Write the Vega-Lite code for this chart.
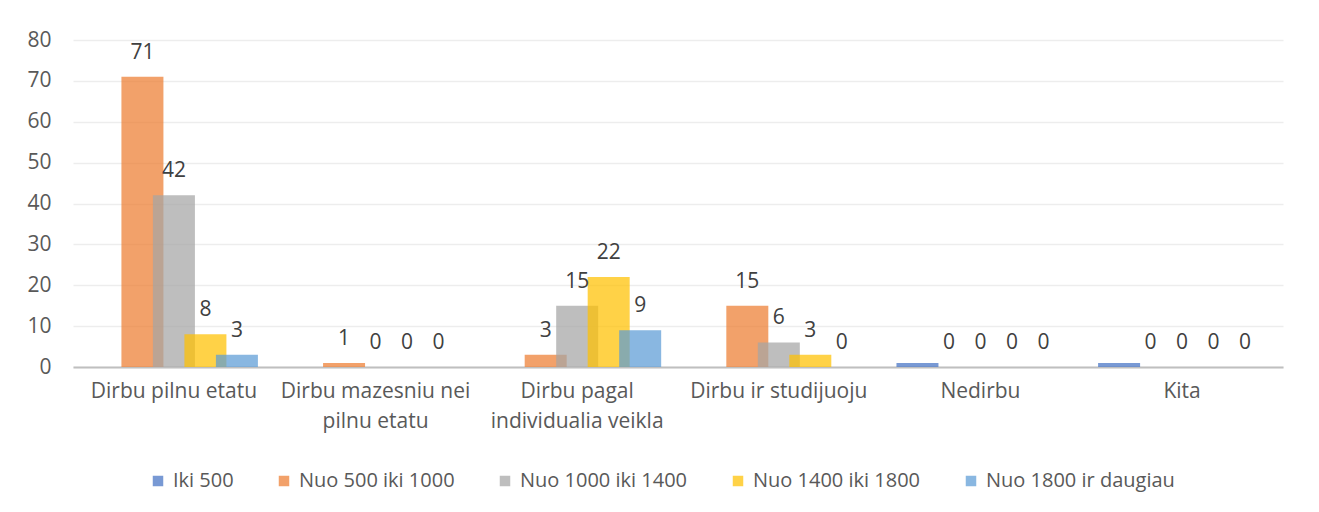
{
  "$schema": "https://vega.github.io/schema/vega-lite/v6.json",
  "width": 1210,
  "height": 327,
  "autosize": {"type": "none"},
  "padding": {"left": 73, "top": 40, "right": 36, "bottom": 145},
  "background": "white",
  "config": {
    "view": {"stroke": null},
    "font": "Open Sans"
  },
  "data": {
    "values": [
      {"category": "Dirbu pilnu etatu", "series": "Iki 500", "value": 0},
      {"category": "Dirbu pilnu etatu", "series": "Nuo 500 iki 1000", "value": 71},
      {"category": "Dirbu pilnu etatu", "series": "Nuo 1000 iki 1400", "value": 42},
      {"category": "Dirbu pilnu etatu", "series": "Nuo 1400 iki 1800", "value": 8},
      {"category": "Dirbu pilnu etatu", "series": "Nuo 1800 ir daugiau", "value": 3},
      {"category": "Dirbu mazesniu nei pilnu etatu", "series": "Iki 500", "value": 0},
      {"category": "Dirbu mazesniu nei pilnu etatu", "series": "Nuo 500 iki 1000", "value": 1},
      {"category": "Dirbu mazesniu nei pilnu etatu", "series": "Nuo 1000 iki 1400", "value": 0},
      {"category": "Dirbu mazesniu nei pilnu etatu", "series": "Nuo 1400 iki 1800", "value": 0},
      {"category": "Dirbu mazesniu nei pilnu etatu", "series": "Nuo 1800 ir daugiau", "value": 0},
      {"category": "Dirbu pagal individualia veikla", "series": "Iki 500", "value": 0},
      {"category": "Dirbu pagal individualia veikla", "series": "Nuo 500 iki 1000", "value": 3},
      {"category": "Dirbu pagal individualia veikla", "series": "Nuo 1000 iki 1400", "value": 15},
      {"category": "Dirbu pagal individualia veikla", "series": "Nuo 1400 iki 1800", "value": 22},
      {"category": "Dirbu pagal individualia veikla", "series": "Nuo 1800 ir daugiau", "value": 9},
      {"category": "Dirbu ir studijuoju", "series": "Iki 500", "value": 0},
      {"category": "Dirbu ir studijuoju", "series": "Nuo 500 iki 1000", "value": 15},
      {"category": "Dirbu ir studijuoju", "series": "Nuo 1000 iki 1400", "value": 6},
      {"category": "Dirbu ir studijuoju", "series": "Nuo 1400 iki 1800", "value": 3},
      {"category": "Dirbu ir studijuoju", "series": "Nuo 1800 ir daugiau", "value": 0},
      {"category": "Nedirbu", "series": "Iki 500", "value": 1},
      {"category": "Nedirbu", "series": "Nuo 500 iki 1000", "value": 0},
      {"category": "Nedirbu", "series": "Nuo 1000 iki 1400", "value": 0},
      {"category": "Nedirbu", "series": "Nuo 1400 iki 1800", "value": 0},
      {"category": "Nedirbu", "series": "Nuo 1800 ir daugiau", "value": 0},
      {"category": "Kita", "series": "Iki 500", "value": 1},
      {"category": "Kita", "series": "Nuo 500 iki 1000", "value": 0},
      {"category": "Kita", "series": "Nuo 1000 iki 1400", "value": 0},
      {"category": "Kita", "series": "Nuo 1400 iki 1800", "value": 0},
      {"category": "Kita", "series": "Nuo 1800 ir daugiau", "value": 0}
    ]
  },
  "encoding": {
    "x": {
      "field": "category",
      "type": "nominal",
      "sort": null,
      "scale": {"paddingInner": 0.219, "paddingOuter": 0.11},
      "axis": {
        "title": null,
        "labelAngle": 0,
        "domain": true,
        "domainColor": "#BFBFBF",
        "domainWidth": 2,
        "ticks": false,
        "grid": false,
        "labelPadding": 13,
        "labelFontSize": 21,
        "labelColor": "#595959",
        "labelLineHeight": 30,
        "labelBaseline": "top",
        "labelLimit": 300,
        "labelExpr": "datum.label == 'Dirbu mazesniu nei pilnu etatu' ? ['Dirbu mazesniu nei', 'pilnu etatu'] : datum.label == 'Dirbu pagal individualia veikla' ? ['Dirbu pagal', 'individualia veikla'] : datum.label"
      }
    },
    "xOffset": {
      "field": "series",
      "type": "nominal",
      "sort": ["Iki 500", "Nuo 500 iki 1000", "Nuo 1000 iki 1400", "Nuo 1400 iki 1800", "Nuo 1800 ir daugiau"],
      "scale": {"paddingInner": 0, "paddingOuter": 0}
    },
    "y": {
      "field": "value",
      "type": "quantitative",
      "scale": {"domain": [0, 80], "nice": false},
      "axis": {
        "title": null,
        "values": [0, 10, 20, 30, 40, 50, 60, 70, 80],
        "domain": false,
        "ticks": false,
        "grid": true,
        "gridColor": "#EDEDED",
        "gridWidth": 1.5,
        "labelPadding": 22,
        "labelFontSize": 21,
        "labelColor": "#595959"
      }
    }
  },
  "layer": [
    {
      "mark": {"type": "bar", "width": 42, "opacity": 0.72},
      "encoding": {
        "color": {
          "field": "series",
          "type": "nominal",
          "sort": ["Iki 500", "Nuo 500 iki 1000", "Nuo 1000 iki 1400", "Nuo 1400 iki 1800", "Nuo 1800 ir daugiau"],
          "scale": {
            "domain": ["Iki 500", "Nuo 500 iki 1000", "Nuo 1000 iki 1400", "Nuo 1400 iki 1800", "Nuo 1800 ir daugiau"],
            "range": ["#4472C4", "#ED7D31", "#A5A5A5", "#FFC000", "#5B9BD5"]
          },
          "legend": {
            "title": null,
            "orient": "none",
            "direction": "horizontal",
            "legendX": 75,
            "legendY": 431,
            "symbolType": "square",
            "symbolSize": 110,
            "symbolOpacity": 0.72,
            "labelFontSize": 20,
            "labelColor": "#595959",
            "labelLimit": 400,
            "columnPadding": 40,
            "labelOffset": 5
          }
        }
      }
    },
    {
      "transform": [{"filter": "datum.series != 'Iki 500'"}],
      "mark": {"type": "text", "baseline": "alphabetic", "dy": -18, "fontSize": 21, "color": "#404040"},
      "encoding": {
        "text": {"field": "value", "type": "quantitative"}
      }
    }
  ]
}
